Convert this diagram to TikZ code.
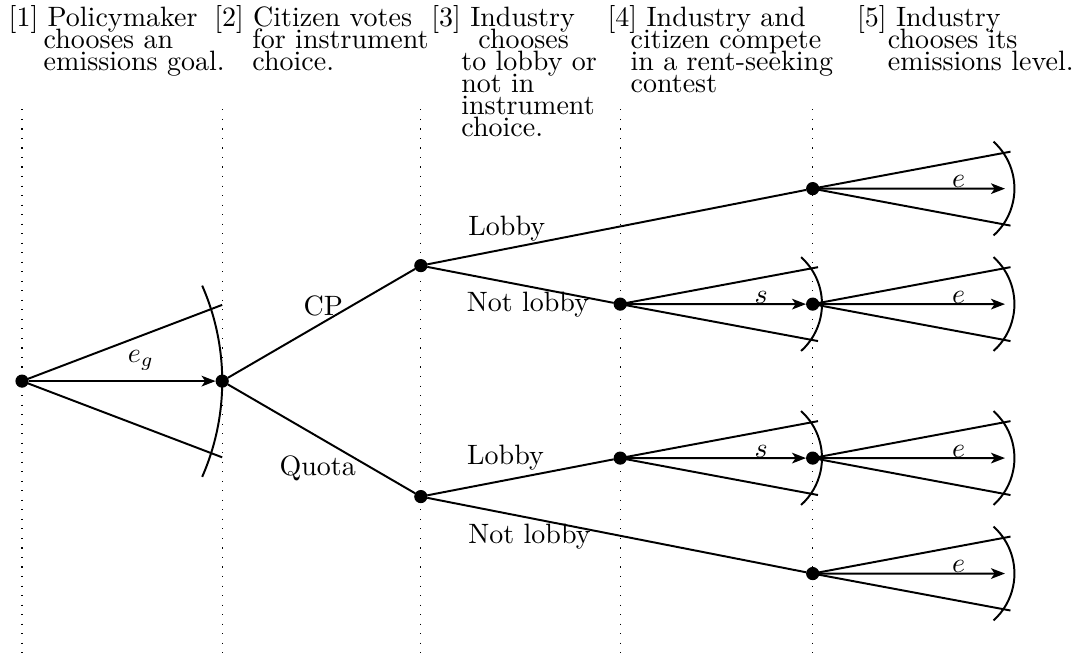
\documentclass[tikz,border=0pt]{standalone}
\usetikzlibrary{arrows.meta}
\begin{document}
\begin{tikzpicture}[scale=0.966,state/.style={circle, draw, inner sep=0pt, fill=black, minimum size=4.3pt}]
    \tikzset{hdr/.style={anchor=north west, align=left, inner sep=0pt, font=\fontsize{10}{7.8}\selectfont, execute at begin node={\lineskiplimit -50pt\relax}}}
    \tikzset{branch/.style={line width=0.7pt}}
    \tikzset{choice/.style={line width=0.7pt, -{Stealth[length=5pt, width=3.8pt, inset=1.3pt]}}}
    \useasboundingbox (-0.286,-3.53) rectangle (13.82,4.95);
    % time line of the game
    \foreach \x in {0,2.6,5.18,7.77,10.27} {
    \draw[dash pattern=on 0.4pt off 3pt] (\x,3.53) -- (\x,-3.53);
    }
    \node[hdr] (h1) at (-0.18,4.88) {[1] Policymaker\\\hspace*{12.5pt}chooses an\\\hspace*{12.5pt}emissions goal.};
    \node[hdr] (h2) at (2.49,4.88) {[2] Citizen votes\\\hspace*{13.6pt}for instrument\\\hspace*{13.6pt}choice.};
    \node[hdr] (h3) at (5.31,4.88) {[3] Industry\\\hspace*{16.8pt}chooses\\\hspace*{10.7pt}to lobby or\\\hspace*{10.7pt}not in\\\hspace*{10.7pt}instrument\\\hspace*{10.7pt}choice.};
    \node[hdr] (h4) at (7.60,4.88) {[4] Industry and\\\hspace*{8.2pt}citizen compete\\\hspace*{8.2pt}in a rent-seeking\\\hspace*{8.2pt}contest};
    \node[hdr] (h5) at (10.84,4.88) {[5] Industry\\\hspace*{11pt}chooses its\\\hspace*{11pt}emissions level.};
    
    \node[state] (r) at (0,0) {};
    \node[state] (v) at (2.6,0) {};
    \node[state] (cp) at (5.18,1.5) {};
    \node[state] (qu) at (5.18,-1.5) {};
    \node[state] (cpl) at (10.27,2.5) {};
    \node[state] (cpn) at (7.77,1.0) {};
    \node[state] (cpn5) at (10.27,1.0) {};
    \node[state] (qul) at (7.77,-1.0) {};
    \node[state] (qul5) at (10.27,-1.0) {};
    \node[state] (qun) at (10.27,-2.5) {};
    
    % emissions goal
    \coordinate (rtop) at (2.6,0.99);
    \coordinate (rbot) at (2.6,-0.99);
    \draw[branch] (r.center) -- (rtop);
    \draw[branch] (r.center) -- (rbot);
    \draw[branch] (2.34,1.24) arc (23.7:-23.7:3.09);
    \draw[choice] (r) -- (v) node[pos=0.6, above] {$e_g$};
    
    % instrument and lobbying
    \draw[branch] (v) -- (cp) node[pos=0.51, above=-1.5pt] {CP};
    \draw[branch] (v) -- (qu) node[pos=0.48, below=3pt] {Quota};
    \draw[branch] (cp) -- (cpl) node[pos=0.21, above=-1pt] {Lobby};
    \draw[branch] (cp) -- (cpn) node[pos=0.54, below=-1.5pt] {Not lobby};
    \draw[branch] (qu) -- (qul) node[pos=0.42, above] {Lobby};
    \draw[branch] (qu) -- (qun) node[pos=0.27, below=-1.5pt] {Not lobby};
    
    % rent-seeking contest
    \foreach \o/\t in {cpn/cpn5,qul/qul5} {
    \draw[branch] (\o.center) -- ++(2.57,0.48);
    \draw[branch] (\o.center) -- ++(2.57,-0.48);
    \draw[branch] (\o.center) ++(2.35,0.61) arc (48:-48:0.82);
    \draw[choice] (\o) -- (\t) node[pos=0.75, above, inner sep=0pt] {$s$};
    }
    
    % emissions level
    \foreach \o in {cpl,cpn5,qul5,qun} {
    \path (\o) ++(2.5,0) coordinate (\o e);
    \draw[branch] (\o.center) -- ++(2.57,0.48);
    \draw[branch] (\o.center) -- ++(2.57,-0.48);
    \draw[branch] (\o.center) ++(2.35,0.61) arc (48:-48:0.82);
    \draw[choice] (\o) -- (\o e) node[pos=0.75, above, inner sep=0pt] {$e$};
    }
\end{tikzpicture}
\end{document}
